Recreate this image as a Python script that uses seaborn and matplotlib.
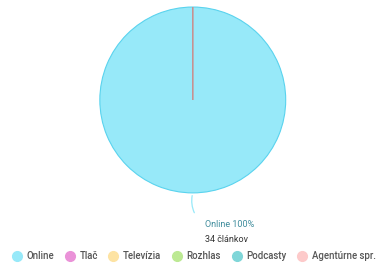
import matplotlib
matplotlib.use("Agg")
import matplotlib.pyplot as plt
import seaborn as sns
from matplotlib.lines import Line2D

# data
categories = ["Online", "Tlač", "Televízia", "Rozhlas", "Podcasty", "Agentúrne spr."]
counts = [34, 0, 0, 0, 0, 0]
colors = ["#97e9f9", "#ea92d8", "#fde3a3", "#bce993", "#7fd6d8", "#fdcaca"]
edge_colors = ["#5ad3ee", "#c89a9a", "#c89a9a", "#c89a9a", "#c89a9a", "#c88c8c"]

sns.set_theme(style="white")
plt.rcParams["font.family"] = ["Roboto", "DejaVu Sans"]

fig = plt.figure(figsize=(3.84, 2.68), dpi=100)
ax = fig.add_axes([0.260, 0.280, 0.484, 0.694])

wedges, _ = ax.pie(counts, colors=colors, startangle=90, counterclock=False,
                   wedgeprops=dict(linewidth=0.8))
for w, ec, c in zip(wedges, edge_colors, counts):
    w.set_edgecolor(ec)
    if c == 0:
        w.set_linewidth(0.6)
ax.set_xlim(-1.0, 1.0)
ax.set_ylim(-1.0, 1.0)
ax.set_aspect("equal")

total = sum(counts)
pct = counts[0] / total * 100
ax.annotate("", xy=(0.0, -1.0), xytext=(0.03, -1.24),
            arrowprops=dict(arrowstyle="-", color="#97e9f9", lw=0.9,
                            connectionstyle="arc3,rad=-0.2"),
            annotation_clip=False)
ax.text(0.13, -1.34, f"{categories[0]} {pct:.0f}%", color="#3f8c9c",
        fontsize=6.5, ha="left", va="center", clip_on=False)
ax.text(0.13, -1.50, f"{counts[0]} článkov", color="#333333",
        fontsize=6.5, ha="left", va="center", clip_on=False)

handles = [Line2D([], [], marker="o", linestyle="", markersize=7,
                  markerfacecolor=c, markeredgecolor=c) for c in colors]
fig.legend(handles, categories, loc="center", bbox_to_anchor=(0.505, 0.045),
           ncol=6, frameon=False, handletextpad=0.5,
           columnspacing=1.15, handlelength=1.0, labelcolor="#555555",
           prop=dict(size=6.9, weight="medium"))

fig.savefig("out.png", dpi=100)
